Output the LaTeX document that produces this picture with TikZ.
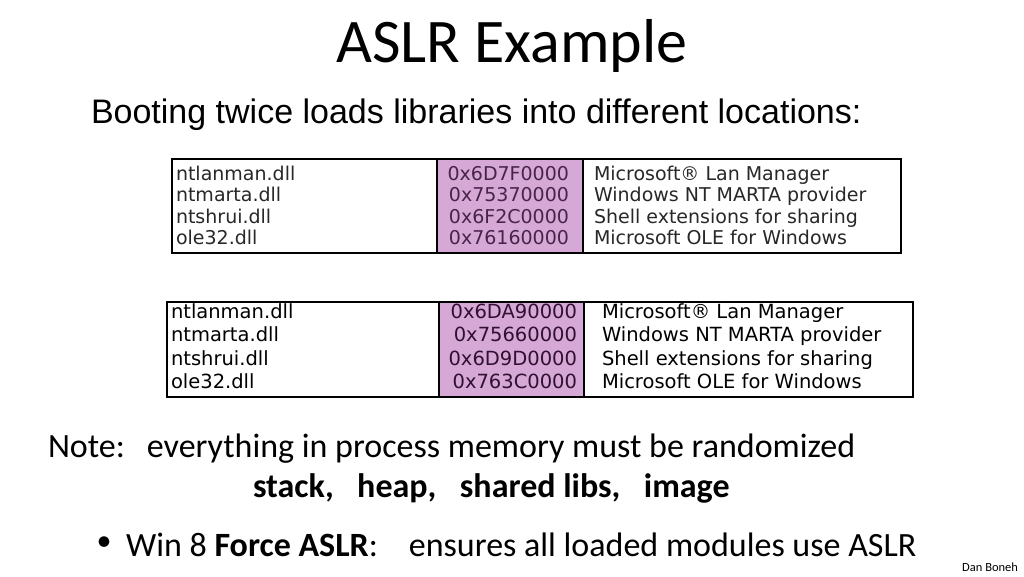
\documentclass[tikz,border=0pt]{standalone}
\usepackage{fontspec}
\setmainfont{Carlito}
\newfontfamily\arialf{Liberation Sans}
\newfontfamily\tblf{DejaVu Sans}
\definecolor{addrfill}{RGB}{213,168,213}
\definecolor{addrtxtA}{RGB}{72,36,72}
\definecolor{addrtxtB}{RGB}{50,16,50}
\definecolor{tbltxtA}{RGB}{40,40,40}
\tikzset{
  txt/.style={inner sep=0pt, outer sep=0pt},
  rowA/.style={txt, font=\tblf\fontsize{19}{19}\selectfont, text=tbltxtA},
  rowB/.style={txt, font=\tblf\fontsize{19.5}{19.5}\selectfont, text=black},
  addrA/.style={rowA, text=addrtxtA, anchor=base east},
  addrB/.style={rowB, text=addrtxtB, anchor=base east},
  tablebox/.style={draw=black, line width=1.2pt},
  addrbox/.style={draw=black, line width=1.2pt, fill=addrfill},
}
\begin{document}
\begin{tikzpicture}[x=1pt,y=-1pt]
\useasboundingbox[fill=white] (0,0) rectangle (1024,576);
% title
\node[txt, anchor=base, font=\fontsize{62}{62}\selectfont] (title) at (512,62) {ASLR Example};
\node[txt, anchor=base west, font=\arialf\fontsize{34}{34}\selectfont] (sub) at (91,123) {Booting twice loads libraries into different locations:};
% table 1
\draw[tablebox] (172,159) rectangle (901,253);
\draw[addrbox] (437,159) rectangle (583,253);
\foreach \n/\a/\d [count=\i from 0] in {ntlanman.dll/0x6D7F0000/Microsoft® Lan Manager, ntmarta.dll/0x75370000/Windows NT MARTA provider, ntshrui.dll/0x6F2C0000/Shell extensions for sharing, ole32.dll/0x76160000/Microsoft OLE for Windows}{
  \node[rowA, anchor=base west] (an\i) at (176,180+21.6*\i) {\n};
  \node[addrA] (aa\i) at (569,180+21.6*\i) {\a};
  \node[rowA, anchor=base west] (ad\i) at (594,180+21.6*\i) {\d};
}
% table 2
\begin{scope}
\clip (167,302) rectangle (913,397);
\draw[addrbox] (439,302) rectangle (584,397);
\foreach \n/\a/\d [count=\i from 0] in {ntlanman.dll/0x6DA90000/Microsoft® Lan Manager, ntmarta.dll/0x75660000/Windows NT MARTA provider, ntshrui.dll/0x6D9D0000/Shell extensions for sharing, ole32.dll/0x763C0000/Microsoft OLE for Windows}{
  \node[rowB, anchor=base west] (bn\i) at (171,318+23.6*\i) {\n};
  \node[addrB] (ba\i) at (577,318+23.6*\i) {\a};
  \node[rowB, anchor=base west] (bd\i) at (602,318+23.6*\i) {\d};
}
\end{scope}
\draw[tablebox] (167,302) rectangle (913,397);
\draw[black, line width=1.2pt] (439,302) -- (439,397) (584,302) -- (584,397);
% notes
\node[txt, anchor=base west, font=\fontsize{34}{34}\selectfont] (note) at (48,457) {Note:\hspace{22pt}everything in process memory must be randomized};
\node[txt, anchor=base west, font=\bfseries\fontsize{34}{34}\selectfont] (kinds) at (253,497) {stack,\hspace{23.5pt}heap,\hspace{23.5pt}shared libs,\hspace{23.5pt}image};
\node[txt, font=\fontsize{30}{30}\selectfont] (dot) at (104,544) {\textbullet};
\node[txt, anchor=base west, font=\fontsize{34}{34}\selectfont] (bullet) at (126,556) {Win 8 \textbf{Force ASLR}:\hspace{31pt}ensures all loaded modules use ASLR};
\node[txt, anchor=base east, font=\fontsize{12.5}{12.5}\selectfont] (author) at (1018,571) {Dan Boneh};
\end{tikzpicture}
\end{document}
